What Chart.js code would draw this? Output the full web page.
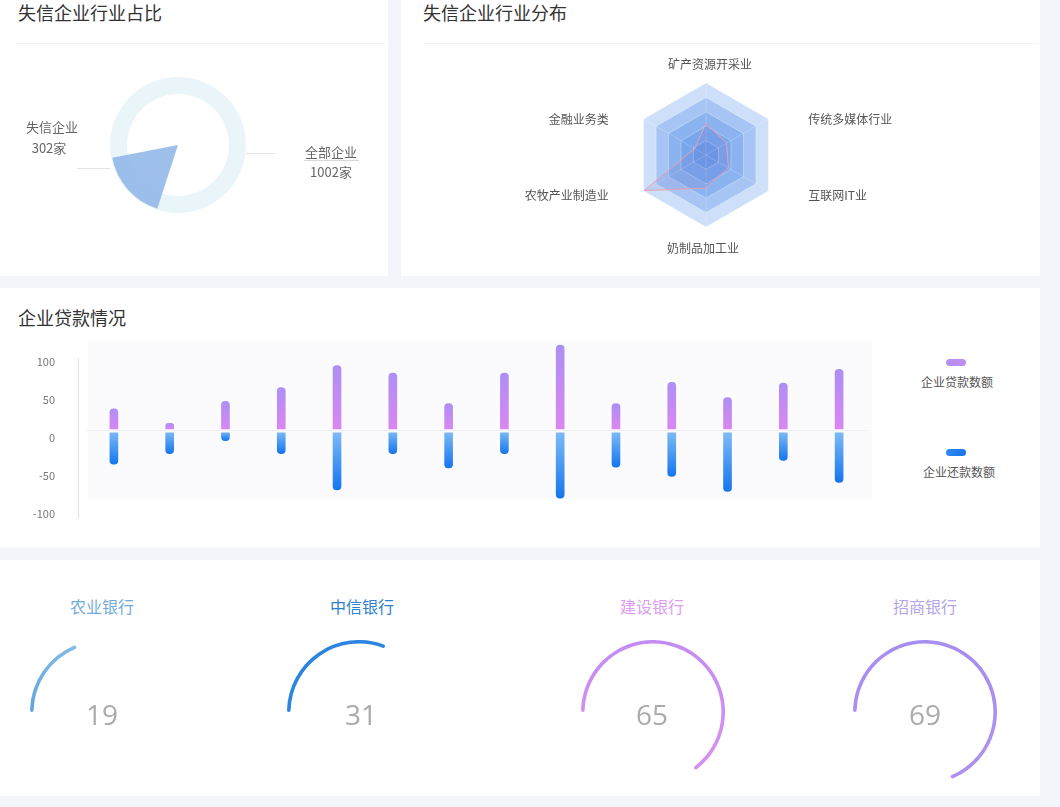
<!DOCTYPE html>
<html><head><meta charset="utf-8">
<script src="https://cdn.jsdelivr.net/npm/chart.js@4.4.1/dist/chart.umd.min.js"></script>
<style>
html,body{margin:0;padding:0;}
body{width:1060px;height:807px;background:#f4f5fa;position:relative;overflow:hidden;font-family:"Noto Sans CJK SC","Noto Sans",sans-serif;}
.panel{position:absolute;background:#fff;}
.title{position:absolute;font-size:18px;color:#333;line-height:24px;white-space:nowrap;}
.divider{position:absolute;height:1px;background:#f2f2f5;}
.abs{position:absolute;}
.txt{position:absolute;white-space:nowrap;text-align:center;}
canvas{display:block;position:absolute;}
</style></head>
<body>
<div class="panel" style="left:0;top:0;width:388px;height:276px"></div>
<div class="panel" style="left:401px;top:0;width:639px;height:276px"></div>
<div class="panel" style="left:0;top:288px;width:1040px;height:259px"></div>
<div class="panel" style="left:0;top:560px;width:1040px;height:236px"></div>

<div class="title" style="left:18px;top:0">失信企业行业占比</div>
<div class="divider" style="left:15px;top:43px;width:370px"></div>
<div class="title" style="left:423px;top:0">失信企业行业分布</div>
<div class="divider" style="left:423px;top:43px;width:615px"></div>
<div class="title" style="left:18px;top:305px">企业贷款情况</div>

<canvas id="ring" width="136" height="136" style="left:110px;top:77px"></canvas>
<canvas id="wedge" width="134" height="134" style="left:111px;top:78px"></canvas>
<div class="abs" style="left:77px;top:168px;width:33px;height:1px;background:#e4e4e8"></div>
<div class="abs" style="left:246px;top:153px;width:29px;height:1px;background:#e4e4e8"></div>
<div id="pieLabels"></div>

<canvas id="radar" width="639" height="232" style="left:401px;top:44px"></canvas>
<canvas id="bars" width="890" height="200" style="left:0;top:335px"></canvas>
<div id="legend"></div>
<div id="gauges"></div>

<script>
// ---------- data ----------
const pieNames = ['失信企业', '全部企业'];
const pieValues = [302, 1002];

const radarLabels = ['矿产资源开采业', '传统多媒体行业', '互联网IT业', '奶制品加工业', '农牧产业制造业', '金融业务类'];
const radarValues = [44, 33, 36, 46, 99, 18];
const radarMax = 100;

const barCategories = ['1', '2', '3', '4', '5', '6', '7', '8', '9', '10', '11', '12', '13', '14'];
const loanValues = [29, 10, 39, 57, 86, 76, 36, 76, 113, 36, 64, 44, 63, 81];
const repayValues = [-44, -30, -13, -30, -78, -30, -49, -30, -89, -48, -60, -80, -39, -68];
const seriesNames = ['企业贷款数额', '企业还款数额'];
const yTicks = [-100, -50, 0, 50, 100];

const bankNames = ['农业银行', '中信银行', '建设银行', '招商银行'];
const bankValues = [19, 31, 65, 69];
const gaugeMax = 100;

// ---------- setup ----------
const FONT = '"Noto Sans CJK SC","Noto Sans",sans-serif';
Chart.defaults.font.family = FONT;
Chart.defaults.animation = false;
Chart.defaults.responsive = false;
Chart.defaults.plugins.legend.display = false;
Chart.defaults.plugins.tooltip.enabled = false;

// ---------- pie ----------
new Chart(document.getElementById('ring'), {
  type: 'doughnut',
  data: { labels: [pieNames[1]], datasets: [{ data: [pieValues[1]], backgroundColor: '#eaf5f9', borderWidth: 0 }] },
  options: { cutout: '75%' }
});
new Chart(document.getElementById('wedge'), {
  type: 'pie',
  data: { labels: [pieNames[0]], datasets: [
    { data: [pieValues[0]], backgroundColor: 'rgba(146,184,232,0.9)', borderWidth: 0, rotation: 198, circumference: 61 },
    { data: [pieValues[1]], backgroundColor: 'rgba(0,0,0,0)', borderWidth: 0, weight: 0, rotation: 0, circumference: 360 }
  ] },
  options: {}
});
(function(){
  const box = document.getElementById('pieLabels');
  const spots = [
    { x: 52, y: 127, x2: 49, y2: 148 },
    { x: 331, y: 152, x2: 331, y2: 172 }
  ];
  pieNames.forEach((n, i) => {
    const s = spots[i];
    box.insertAdjacentHTML('beforeend',
      `<div class="txt" style="left:${s.x-50}px;top:${s.y-10}px;width:100px;font-size:13px;line-height:20px;color:#666">${n}</div>` +
      `<div class="txt" style="left:${s.x2-50}px;top:${s.y2-10}px;width:100px;font-size:13px;line-height:20px;color:#666">${pieValues[i]}家</div>`);
  });
  box.insertAdjacentHTML('beforeend', '<div class="abs" style="left:304px;top:160px;width:55px;height:1px;background:#d8d8dc"></div>');
})();

// ---------- radar ----------
const bandColors = ['#6c9dea', '#79a7ec', '#8bb3ef', '#a7c5f4', '#cddff9']; // inner -> outer
const radarBands = {
  id: 'radarBands',
  beforeDraw(chart) {
    const s = chart.scales.r, ctx = chart.ctx;
    const levels = s.ticks.map(t => t.value).filter(v => v > 0).sort((a, b) => b - a);
    levels.forEach((v, k) => {
      ctx.save();
      ctx.beginPath();
      for (let i = 0; i < radarLabels.length; i++) {
        const p = s.getPointPositionForValue(i, v);
        if (i === 0) ctx.moveTo(p.x, p.y); else ctx.lineTo(p.x, p.y);
      }
      ctx.closePath();
      ctx.fillStyle = bandColors[levels.length - 1 - k];
      ctx.fill();
      ctx.restore();
    });
  },
  afterDraw(chart) {
    const s = chart.scales.r, ctx = chart.ctx;
    ctx.save();
    ctx.font = '12px ' + FONT;
    ctx.fillStyle = '#555';
    ctx.textBaseline = 'middle';
    radarLabels.forEach((lab, i) => {
      const p = s.getPointPositionForValue(i, s.max);
      let x = p.x, y = p.y;
      if (Math.abs(p.x - s.xCenter) < 1) {
        ctx.textAlign = 'center';
        y += (p.y < s.yCenter) ? -19 : 21;
        x += (p.y < s.yCenter) ? 4 : -3;
      } else if (p.x > s.xCenter) {
        ctx.textAlign = 'left'; x += 40; y += (p.y > s.yCenter ? 4 : 0);
      } else {
        ctx.textAlign = 'right'; x -= 35; y += (p.y > s.yCenter ? 4 : 0);
      }
      ctx.fillText(lab, x, y);
    });
    ctx.restore();
  }
};
new Chart(document.getElementById('radar'), {
  type: 'radar',
  data: { labels: radarLabels, datasets: [{
    data: radarValues, borderColor: '#eaa0b4', borderWidth: 1,
    backgroundColor: 'rgba(110,115,200,0.16)', pointRadius: 0, tension: 0
  }] },
  options: {
    layout: { padding: { top: 39.5, bottom: 48.5, left: 0, right: 29 } },
    scales: { r: {
      min: 0, max: radarMax,
      ticks: { display: false, stepSize: 20 },
      pointLabels: { display: false },
      grid: { color: 'rgba(255,255,255,0.3)' },
      angleLines: { color: 'rgba(255,255,255,0.2)' }
    } }
  },
  plugins: [radarBands]
});

// ---------- bars ----------
function barFill(c, topCol, botCol, fallback) {
  const ch = c.chart;
  if (!ch.chartArea || !c.parsed) return fallback;
  const y = ch.scales.y;
  const p0 = y.getPixelForValue(0), p1 = y.getPixelForValue(c.parsed.y);
  const a = Math.min(p0, p1), b = Math.max(p0, p1);
  if (b - a < 1) return fallback;
  const g = ch.ctx.createLinearGradient(0, a, 0, b);
  g.addColorStop(0, topCol); g.addColorStop(1, botCol);
  return g;
}
const axisLine = {
  id: 'axisLine',
  beforeDraw(chart) {
    const { ctx, chartArea } = chart;
    ctx.save();
    ctx.fillStyle = 'rgba(248,248,252,0.55)';
    ctx.fillRect(chartArea.left + 2, chartArea.top - 15, chartArea.width + 3, chartArea.height - 3);
    ctx.restore();
  },
  beforeDatasetsDraw(chart) {
    const { ctx, chartArea } = chart;
    ctx.save();
    ctx.strokeStyle = '#e2e2e8'; ctx.lineWidth = 1;
    const x = Math.round(chartArea.left - 8) + 0.5;
    ctx.beginPath(); ctx.moveTo(x, chartArea.top + 3); ctx.lineTo(x, chartArea.bottom); ctx.stroke();
    ctx.restore();
  }
};
new Chart(document.getElementById('bars'), {
  type: 'bar',
  data: { labels: barCategories, datasets: [
    { label: seriesNames[0], data: loanValues, base: 2.6, grouped: false, barThickness: 8, borderRadius: 4, borderWidth: 0, clip: false,
      backgroundColor: c => barFill(c, '#ad8ff5', '#dc86f1', '#c48af3') },
    { label: seriesNames[1], data: repayValues, base: -2.6, grouped: false, barThickness: 8, borderRadius: 4, borderWidth: 0, clip: false,
      backgroundColor: c => barFill(c, '#80bcf7', '#1576ee', '#3c90f2') }
  ] },
  options: {
    layout: { padding: { top: 20, bottom: 17, left: 0, right: 23 } },
    scales: {
      x: { display: false, offset: true, grid: { display: false } },
      y: {
        min: -115, max: 100,
        afterFit(s) { s.width = 86; s.paddingTop = 0; s.paddingBottom = 0; },
        afterBuildTicks(s) { s.ticks = yTicks.map(v => ({ value: v })); },
        border: { display: false },
        grid: { drawTicks: false, color: c => (c.tick && c.tick.value === 0) ? '#f0f0f5' : 'rgba(0,0,0,0)' },
        ticks: { padding: 31, labelOffset: 7, color: '#777', font: { size: 11 } }
      }
    }
  },
  plugins: [axisLine]
});
(function(){
  const lg = document.getElementById('legend');
  const items = [
    { y: 359, ty: 382, cx: 957, grad: 'linear-gradient(90deg,#b48ff4,#c48cf3)' },
    { y: 449, ty: 472, cx: 959, grad: 'linear-gradient(90deg,#2f88f2,#1676ee)' }
  ];
  seriesNames.forEach((n, i) => {
    const it = items[i];
    lg.insertAdjacentHTML('beforeend',
      `<div class="abs" style="left:946px;top:${it.y}px;width:20px;height:7px;border-radius:3.5px;background:${it.grad}"></div>` +
      `<div class="txt" style="left:${it.cx-50}px;top:${it.ty-10}px;width:100px;font-size:12px;line-height:20px;color:#555">${n}</div>`);
  });
})();

// ---------- gauges ----------
const gaugeCenters = [102, 359, 653, 925];
const gaugeTitleX = [102, 362, 652, 925];
const gaugeNumX = [102, 361, 652, 925];
const gaugeTitleColors = ['#72abd9', '#2f80cf', '#dc9cf0', '#b6a4e8'];
const gaugeArcColors = [['#84bde8', '#3b8bd3'], ['#2c86e1', '#2a84de'], ['#c48cf2', '#d892ee'], ['#a68ef0', '#b190ee']];
const gw = document.getElementById('gauges');
bankValues.forEach((v, i) => {
  const cx = gaugeCenters[i];
  gw.insertAdjacentHTML('beforeend',
    `<div class="txt" style="left:${gaugeTitleX[i]-60}px;top:594px;width:120px;font-size:16px;line-height:24px;color:${gaugeTitleColors[i]}">${bankNames[i]}</div>` +
    `<canvas id="g${i}" width="144" height="144" style="left:${cx-72}px;top:640px"></canvas>` +
    `<div class="txt" style="left:${gaugeNumX[i]-50}px;top:696px;width:100px;font-family:'Open Sans','Noto Sans',sans-serif;font-size:28px;line-height:36px;color:#ababab">${v}</div>`);
});
bankValues.forEach((v, i) => {
  new Chart(document.getElementById('g' + i), {
    type: 'doughnut',
    data: { labels: [bankNames[i], ''], datasets: [{
      data: [v, gaugeMax - v],
      backgroundColor: c => {
        if (c.dataIndex !== 0) return 'rgba(0,0,0,0)';
        const g = c.chart.ctx.createLinearGradient(0, 0, 0, 144);
        g.addColorStop(0, gaugeArcColors[i][0]); g.addColorStop(1, gaugeArcColors[i][1]);
        return g;
      },
      borderWidth: 0, borderRadius: 2
    }] },
    options: { cutout: '95%', rotation: 270 }
  });
});
</script>
</body></html>
